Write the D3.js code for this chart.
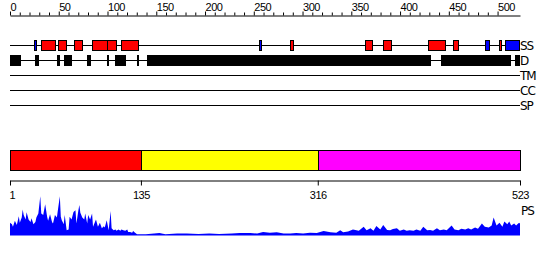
<!DOCTYPE html>
<html lang="en">
<head>
    <meta charset="UTF-8">
    <title>Sequence Features</title>
    <script src="https://d3js.org/d3.v7.min.js"></script>
    <style>
        body {
            margin: 0;
            padding: 0;
            background-color: #fff;
        }
        svg {
            display: block;
            font-family: "DejaVu Sans", sans-serif;
        }
    </style>
</head>
<body>
    <svg id="chart" width="550" height="260"></svg>
    <script>
        const seqLength = 523;

        // secondary structure: helix (red) and strand (blue) segments, residue ranges
        const ssHelix = [[33, 47], [50, 58], [66, 75], [85, 100], [100, 110], [115, 132],
            [288, 291], [364, 372], [383, 391], [429, 446], [454, 460], [501, 504]];
        const ssStrand = [[26, 28], [256, 258], [487, 491], [508, 522]];

        // disordered regions
        const disorder = [[1, 12], [27, 31], [49, 52], [56, 64], [80, 84], [100, 102],
            [108, 116], [116, 120], [131, 133], [141, 432], [442, 514], [518, 523]];

        const emptyTracks = ["TM", "CC", "SP"];

        // domain boundaries
        const domainBounds = [1, 135, 316, 523];

        // PS profile
        const psPos = [1, 3, 4, 6, 8, 10, 11, 13, 14, 15, 17, 18, 20, 22, 23, 25, 27, 28, 30, 32,
            33, 35, 37, 39, 40, 42, 44, 45, 47, 49, 50, 52, 53, 54, 56, 57, 59, 61, 62, 64,
            66, 68, 69, 71, 72, 73, 75, 77, 78, 80, 81, 83, 85, 86, 89, 91, 93, 95, 97, 98,
            100, 102, 104, 105, 107, 109, 110, 112, 114, 115, 117, 119, 121, 122, 124, 126, 127, 129, 131, 140,
            154, 160, 172, 182, 194, 205, 215, 228, 236, 247, 254, 260, 267, 274, 281, 288, 294, 301,
            308, 315, 322, 329, 335, 339, 342, 347, 352, 358, 363, 366, 370, 373, 376, 380, 383, 387,
            390, 393, 397, 400, 404, 407, 410, 414, 417, 421, 424, 428, 431, 434, 438, 441, 445, 448,
            453, 456, 460, 463, 467, 470, 473, 477, 480, 484, 487, 491, 494, 496, 499, 502, 505, 507,
            510, 512, 514, 517, 519, 522, 523];
        const psVal = [0.32, 0.28, 0.22, 0.37, 0.26, 0.48, 0.32, 0.45, 0.65, 0.51, 0.40, 0.58, 0.40, 0.34, 0.43, 0.28, 0.34, 0.45, 0.55, 0.98,
            0.55, 0.51, 0.78, 0.47, 0.37, 0.53, 0.34, 0.30, 0.51, 0.45, 0.63, 0.98, 0.47, 0.38, 0.28, 0.51, 0.13, 0.15, 0.47, 0.40,
            0.59, 0.63, 0.30, 0.63, 0.76, 0.57, 0.45, 0.40, 0.55, 0.30, 0.51, 0.40, 0.55, 0.22, 0.40, 0.22, 0.32, 0.18, 0.23, 0.20,
            0.38, 0.13, 0.61, 0.18, 0.13, 0.15, 0.12, 0.15, 0.12, 0.15, 0.13, 0.12, 0.15, 0.09, 0.09, 0.07, 0.11, 0.07, 0.03, 0.03,
            0.06, 0.03, 0.05, 0.05, 0.04, 0.05, 0.04, 0.05, 0.06, 0.06, 0.05, 0.09, 0.07, 0.08, 0.05, 0.05, 0.06, 0.05,
            0.07, 0.06, 0.11, 0.08, 0.07, 0.13, 0.08, 0.10, 0.15, 0.12, 0.22, 0.13, 0.18, 0.12, 0.24, 0.15, 0.26, 0.14,
            0.13, 0.16, 0.18, 0.12, 0.15, 0.12, 0.13, 0.12, 0.15, 0.12, 0.22, 0.13, 0.14, 0.12, 0.18, 0.13, 0.15, 0.13,
            0.25, 0.15, 0.13, 0.17, 0.15, 0.18, 0.15, 0.20, 0.17, 0.30, 0.22, 0.20, 0.25, 0.45, 0.25, 0.32, 0.22, 0.35,
            0.28, 0.35, 0.25, 0.30, 0.25, 0.32, 0.30];

        const svg = d3.select("#chart");

        const x = d3.scaleLinear().domain([1, seqLength]).range([10, 520]);
        const ruler = d3.scaleLinear().domain([0, seqLength]).range([10, 520]);

        // top ruler
        const rulerAxis = svg.append("g")
            .attr("transform", "translate(0,15.5)")
            .call(d3.axisTop(ruler)
                .tickValues(d3.range(0, 501, 10))
                .tickSize(3)
                .tickSizeOuter(0)
                .tickFormat(d => d % 50 === 0 ? d : ""));
        rulerAxis.select(".domain").attr("stroke", "#000");
        rulerAxis.selectAll(".tick line").attr("stroke", "#000")
            .attr("y2", d => d % 50 === 0 ? -4 : -3);
        rulerAxis.selectAll(".tick text")
            .attr("text-anchor", "start")
            .attr("y", -4.5)
            .attr("dy", 0)
            .attr("fill", "#000")
            .style("font-size", "11px")
            .style("letter-spacing", "-0.5px");

        const trackY = { SS: 45, D: 60, TM: 75, CC: 90, SP: 105 };

        function trackLine(y) {
            svg.append("line")
                .attr("x1", x(1)).attr("x2", x(seqLength))
                .attr("y1", y + 0.5).attr("y2", y + 0.5)
                .attr("stroke", "#000");
        }

        function trackLabel(name, y) {
            svg.append("text")
                .attr("x", 520)
                .attr("y", y + 4.5)
                .style("font-size", "12px")
                .style("letter-spacing", "-1px")
                .text(name);
        }

        // SS track
        trackLine(trackY.SS);
        svg.selectAll("rect.helix")
            .data(ssHelix).join("rect")
            .attr("class", "helix")
            .attr("x", d => Math.round(x(d[0])) + 0.5)
            .attr("width", d => Math.round(x(d[1])) - Math.round(x(d[0])))
            .attr("y", trackY.SS - 4.5)
            .attr("height", 10)
            .attr("fill", "#ff0000")
            .attr("stroke", "#000");
        svg.selectAll("rect.strand")
            .data(ssStrand).join("rect")
            .attr("class", "strand")
            .attr("x", d => Math.round(x(d[0])) + 0.5)
            .attr("width", d => Math.max(1, Math.round(x(d[1])) - Math.round(x(d[0]))))
            .attr("y", trackY.SS - 4.5)
            .attr("height", 10)
            .attr("fill", "#0000ff")
            .attr("stroke", "#000");
        trackLabel("SS", trackY.SS);

        // D track
        trackLine(trackY.D);
        svg.selectAll("rect.dis")
            .data(disorder).join("rect")
            .attr("class", "dis")
            .attr("x", d => Math.round(x(d[0])))
            .attr("width", d => Math.round(x(d[1])) - Math.round(x(d[0])))
            .attr("y", trackY.D - 5)
            .attr("height", 11)
            .attr("fill", "#000");
        trackLabel("D", trackY.D);

        emptyTracks.forEach(t => {
            trackLine(trackY[t]);
            trackLabel(t, trackY[t]);
        });

        // domain bar
        const domainColors = ["#ff0000", "#ffff00", "#ff00ff"];
        const segs = d3.pairs(domainBounds);
        svg.selectAll("rect.dom")
            .data(segs).join("rect")
            .attr("class", "dom")
            .attr("x", d => Math.round(x(d[0])) + 0.5)
            .attr("width", d => Math.round(x(d[1])) - Math.round(x(d[0])))
            .attr("y", 150.5)
            .attr("height", 20)
            .attr("fill", (d, i) => domainColors[i])
            .attr("stroke", "#000");

        const domAxis = svg.append("g")
            .attr("transform", "translate(0,180.5)")
            .call(d3.axisBottom(x)
                .tickValues(domainBounds)
                .tickSize(5)
                .tickSizeOuter(0));
        domAxis.select(".domain").attr("stroke", "#000");
        domAxis.selectAll(".tick line").attr("stroke", "#000");
        domAxis.selectAll(".tick text")
            .attr("y", 18.5)
            .attr("dy", 0)
            .attr("fill", "#000")
            .attr("text-anchor", (d, i) => i === 0 ? "start" : "middle")
            .attr("dx", (d, i) => i === 0 ? -1 : 0)
            .style("font-size", "11px")
            .style("letter-spacing", "-0.5px");

        // PS profile
        const y = d3.scaleLinear().domain([0, 1]).range([235.5, 195.5]);
        const area = d3.area()
            .x((d, i) => x(psPos[i]))
            .y0(y(0))
            .y1(d => y(d));
        svg.append("path")
            .datum(psVal)
            .attr("d", area)
            .attr("fill", "#0000ff");

        svg.append("text")
            .attr("x", 521)
            .attr("y", 215)
            .style("font-size", "12px")
            .style("letter-spacing", "-1px")
            .text("PS");
    </script>
</body>
</html>
